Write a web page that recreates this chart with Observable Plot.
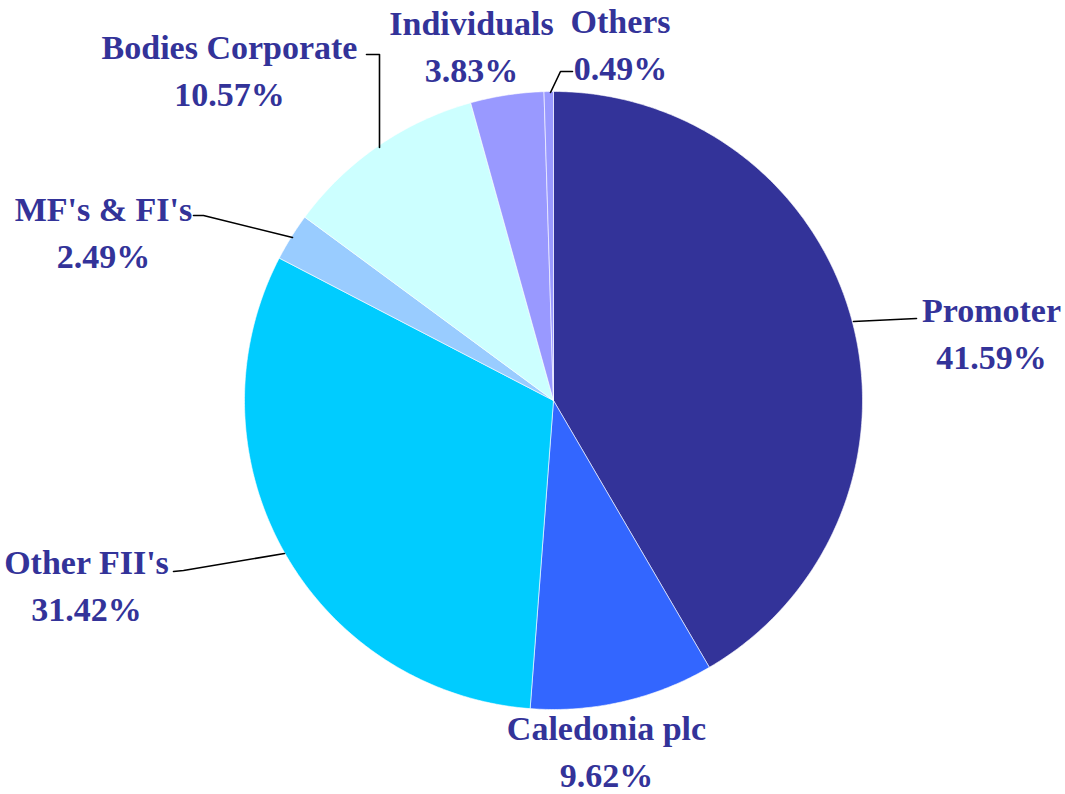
<!DOCTYPE html>
<html>
<head>
<meta charset="utf-8">
<script src="https://cdn.jsdelivr.net/npm/d3@7"></script>
<script src="https://cdn.jsdelivr.net/npm/@observablehq/plot@0.6"></script>
<style>
  html, body { margin: 0; padding: 0; background: #ffffff; }
  #chart svg { display: block; }
</style>
</head>
<body>
<div id="chart"></div>
<script>
// ---- data ----
const categories = ["Promoter", "Caledonia plc", "Other FII's", "MF's & FI's", "Bodies Corporate", "Individuals", "Others"];
const shares = [41.59, 9.62, 31.42, 2.49, 10.57, 3.83, 0.49];
const shareLabels = ["41.59%", "9.62%", "31.42%", "2.49%", "10.57%", "3.83%", "0.49%"];
const sliceColors = ["#333399", "#3366FF", "#00CCFF", "#99CCFF", "#CCFFFF", "#9999FF", "#9999FF"];

// ---- layout (pixels) ----
const W = 1065, H = 794;
const CX = 553, CY = 400, R = 309;
const labelPos = {
  "Promoter": [991, 330],
  "Caledonia plc": [606, 748],
  "Other FII's": [86, 582],
  "MF's & FI's": [103, 229],
  "Bodies Corporate": [229, 67],
  "Individuals": [471, 43],
  "Others": [620, 41]
};
const leaders = {
  "Promoter": [[853, 321], [916, 318]],
  "Other FII's": [[284, 553], [183, 570], [173, 571]],
  "MF's & FI's": [[292, 237], [203, 215], [193, 215]],
  "Bodies Corporate": [[379, 147], [379, 54], [366, 54]],
  "Others": [[550, 92], [560, 71], [572, 71]]
};
const ux = px => (px - CX) / R;
const uy = py => (CY - py) / R;

// slice outlines in unit coordinates (angle clockwise from 12 o'clock)
const total = d3.sum(shares);
const slicePts = [];
let acc = 0;
categories.forEach((name, i) => {
  const a0 = acc / total * 2 * Math.PI;
  acc += shares[i];
  const a1 = acc / total * 2 * Math.PI;
  const n = Math.max(2, Math.ceil((a1 - a0) / 0.01));
  slicePts.push({name, x: 0, y: 0});
  for (let k = 0; k <= n; k++) {
    const a = a0 + (a1 - a0) * k / n;
    slicePts.push({name, x: Math.sin(a), y: Math.cos(a)});
  }
  slicePts.push({name, x: 0, y: 0});
});

const leaderPts = [];
for (const [name, pts] of Object.entries(leaders)) {
  pts.forEach(([px, py]) => leaderPts.push({name, x: ux(px), y: uy(py)}));
}

const labels = categories.map((name, i) => ({
  name,
  text: name + "\n" + shareLabels[i],
  x: ux(labelPos[name][0]),
  y: uy(labelPos[name][1])
}));

const chart = Plot.plot({
  width: W,
  height: H,
  margin: 0,
  x: {domain: [ux(0), ux(W)], range: [0, W], axis: null},
  y: {domain: [uy(H), uy(0)], range: [H, 0], axis: null},
  color: {domain: categories, range: sliceColors},
  style: {background: "#ffffff"},
  marks: [
    Plot.line(slicePts, {x: "x", y: "y", z: "name", fill: "name", stroke: "#ffffff", strokeWidth: 0.6, curve: "linear"}),
    Plot.line(leaderPts, {x: "x", y: "y", z: "name", stroke: "#000000", strokeWidth: 1.6}),
    Plot.text(labels, {
      x: "x", y: "y", text: "text",
      fill: "#333399",
      fontSize: 34,
      fontWeight: "bold",
      fontFamily: "'Liberation Serif', 'DejaVu Serif', serif",
      lineHeight: 1.39,
      textAnchor: "middle",
      lineAnchor: "middle"
    })
  ]
});
document.getElementById("chart").appendChild(chart);
</script>
</body>
</html>
